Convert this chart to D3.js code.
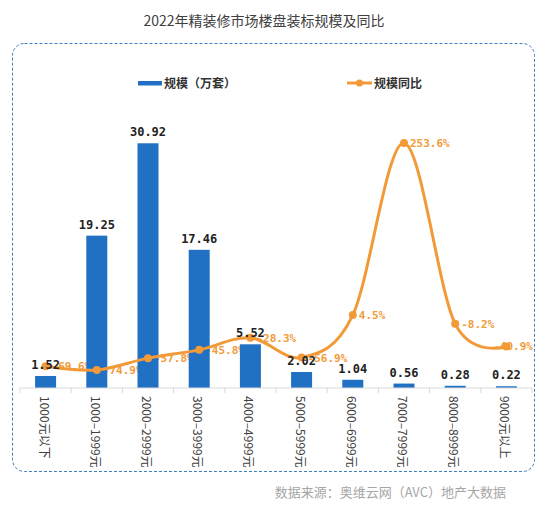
<!DOCTYPE html>
<html><head><meta charset="utf-8">
<script src="https://cdn.jsdelivr.net/npm/d3@7/dist/d3.min.js"></script>
<style>body{margin:0;background:#fff}svg{display:block}</style>
</head><body>
<svg id="c" width="542" height="507"></svg>
<script>
const categories = ["1000元以下","1000–1999元","2000–2999元","3000–3999元","4000–4999元","5000–5999元","6000–6999元","7000–7999元","8000–8999元","9000元以上"];
const scale = [1.52, 19.25, 30.92, 17.46, 5.52, 2.02, 1.04, 0.56, 0.28, 0.22];
const yoy = [-69.6, -74.9, -57.8, -45.8, -28.3, -56.9, 4.5, 253.6, -8.2, -40.9];
const seriesNames = ["规模（万套）", "规模同比"];
const title = "2022年精装修市场楼盘装标规模及同比";
const source = "数据来源：奥维云网（AVC）地产大数据";

const svg = d3.select("#c");
const cjk = "'Noto Sans CJK SC','Noto Sans',sans-serif";
const mono = "'DejaVu Sans Mono',monospace";
const blue = "#2070C3", orange = "#F39A38";

const x = d3.scaleBand().domain(categories).range([20, 532]).paddingInner(0.59).paddingOuter(0.295);
const y = d3.scaleLinear().domain([0, 35]).range([388, 111]);
const y2 = d3.scaleLinear().domain([-100, 300]).range([387.3, 110.9]);
const cx = d => x(d) + x.bandwidth() / 2;

// title
svg.append("text").attr("x", 264).attr("y", 26).attr("text-anchor", "middle")
  .style("font-family", cjk).style("font-size", "14px").attr("fill", "#404040").text(title);

// border
svg.append("rect").attr("x", 12.5).attr("y", 43.5).attr("width", 522).attr("height", 428).attr("rx", 12)
  .attr("fill", "none").attr("stroke", "#3f7fc0").attr("stroke-width", 1).attr("stroke-dasharray", "3,2");

// legend
svg.append("rect").attr("x", 138).attr("y", 81).attr("width", 24).attr("height", 4.5).attr("fill", blue);
svg.append("text").attr("x", 164).attr("y", 87.5).style("font-family", cjk).style("font-size", "12px")
  .style("font-weight", "bold").attr("fill", "#333").text(seriesNames[0]);
svg.append("line").attr("x1", 347).attr("x2", 372).attr("y1", 83).attr("y2", 83).attr("stroke", orange).attr("stroke-width", 3);
svg.append("circle").attr("cx", 359.5).attr("cy", 83).attr("r", 3.5).attr("fill", orange);
svg.append("text").attr("x", 374).attr("y", 87.5).style("font-family", cjk).style("font-size", "12px")
  .style("font-weight", "bold").attr("fill", "#333").text(seriesNames[1]);

// percentage labels (under bars)
const pct = svg.append("g").selectAll("text").data(yoy).join("text")
  .attr("y", d => y2(d) + 4)
  .style("font-family", mono).style("font-size", "11px").style("font-weight", "bold")
  .attr("fill", orange).text(d => d.toFixed(1) + "%");
pct.each(function(d, i) {
  const w = this.getComputedTextLength();
  let lx = cx(categories[i]) + 6;
  if (lx + w > 533) lx = 533 - w;
  d3.select(this).attr("x", lx);
});

// bars
svg.append("g").selectAll("rect").data(scale).join("rect")
  .attr("x", (d, i) => x(categories[i])).attr("width", x.bandwidth())
  .attr("y", d => y(d)).attr("height", d => y(0) - y(d)).attr("fill", blue);

// x axis
const ax = svg.append("g").attr("transform", "translate(0,388)");
ax.append("line").attr("x1", 20).attr("x2", 532).attr("stroke", "#d9d9d9");
const bounds = categories.map(c => x(c) - x.step() * x.paddingInner() / 2).concat([532]);
ax.selectAll("line.t").data(bounds).join("line").attr("class", "t")
  .attr("x1", d => d).attr("x2", d => d).attr("y1", 0).attr("y2", 5).attr("stroke", "#d9d9d9");
svg.append("g").selectAll("text").data(categories).join("text")
  .attr("transform", d => `translate(${cx(d) - 6},396) rotate(90)`)
  .style("font-family", cjk).style("font-size", "12px").attr("fill", "#404040").text(d => d);

// line
const line = d3.line().x((d, i) => cx(categories[i])).y(d => y2(d)).curve(d3.curveCardinal.tension(0));
svg.append("path").datum(yoy).attr("d", line).attr("fill", "none").attr("stroke", orange).attr("stroke-width", 3);
svg.append("g").selectAll("circle").data(yoy).join("circle")
  .attr("cx", (d, i) => cx(categories[i])).attr("cy", d => y2(d)).attr("r", 4).attr("fill", orange);

// bar labels
svg.append("g").selectAll("text").data(scale).join("text")
  .attr("x", (d, i) => cx(categories[i])).attr("y", d => y(d) - 7).attr("text-anchor", "middle")
  .style("font-family", mono).style("font-size", "12px").style("font-weight", "bold")
  .attr("fill", "#222").text(d => d.toFixed(2));

// source
svg.append("text").attr("x", 506).attr("y", 497).attr("text-anchor", "end")
  .style("font-family", cjk).style("font-size", "13px").attr("fill", "#a6a6a6").text(source);
</script>
</body></html>
